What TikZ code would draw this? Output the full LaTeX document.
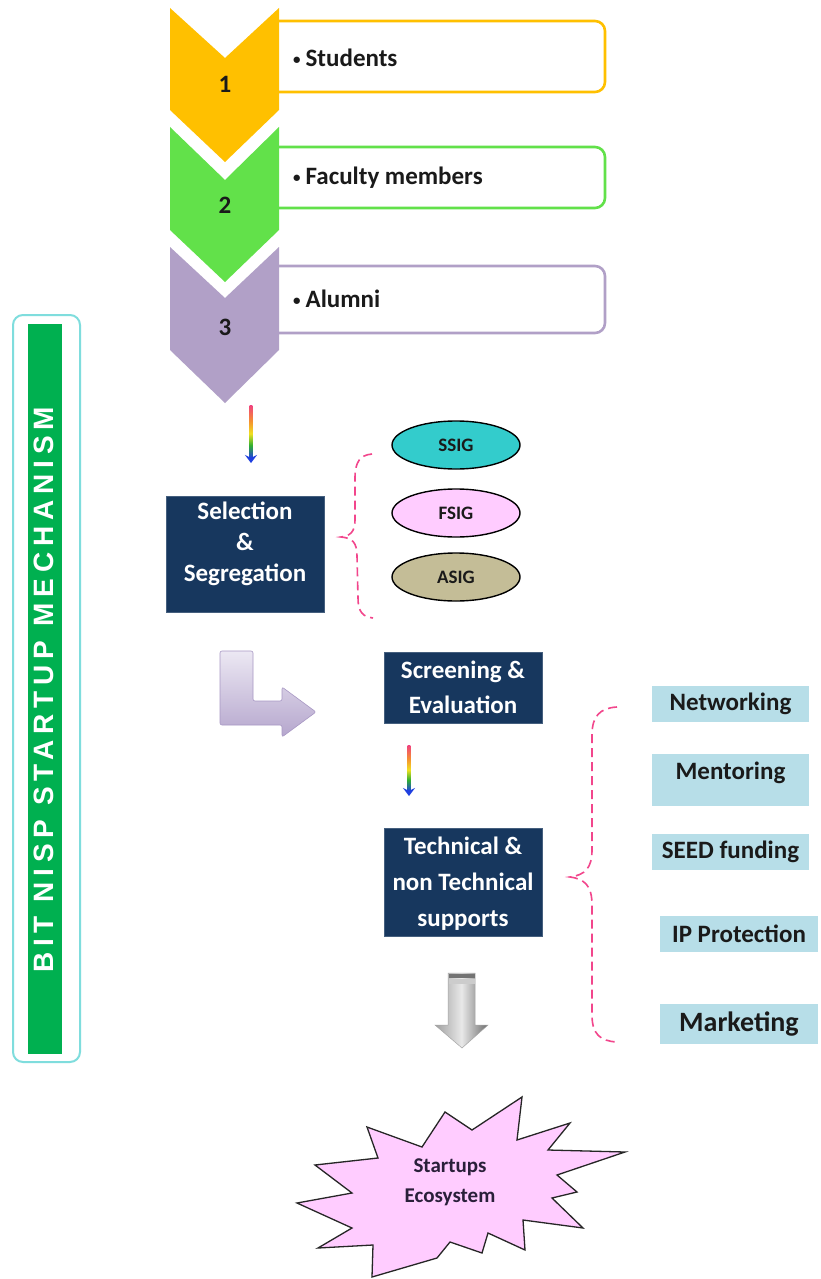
\documentclass[tikz,border=0pt]{standalone}
\usepackage{fontspec}
\setmainfont{Carlito}
\newfontfamily\bannerfont{Liberation Sans}
\usetikzlibrary{arrows.meta,calc,shapes.geometric}
\definecolor{orng}{HTML}{FFC000}
\definecolor{grn}{HTML}{62E14A}
\definecolor{purp}{HTML}{B1A0C7}
\definecolor{navy}{HTML}{17375E}
\definecolor{bannergreen}{HTML}{00B050}
\definecolor{bannercyan}{HTML}{7FDDDD}
\definecolor{turq}{HTML}{33CCCC}
\definecolor{pinkfill}{HTML}{FFCCFF}
\definecolor{khaki}{HTML}{C4BD97}
\definecolor{lblue}{HTML}{B7DEE8}
\definecolor{bracepink}{HTML}{F2468C}
\definecolor{darktext}{HTML}{1A1A1A}
\definecolor{ecotext}{HTML}{2A1F3A}
\definecolor{rbblue}{HTML}{1F3FE0}
\definecolor{rbgreen}{HTML}{30B030}
\definecolor{rbyellow}{HTML}{F0E020}
\definecolor{rborange}{HTML}{F59030}
\definecolor{rbpink}{HTML}{F04080}
\definecolor{lavtop}{HTML}{ECE8F3}
\definecolor{lavbot}{HTML}{B5A6CD}
\definecolor{lavedge}{HTML}{A898C4}
\pgfdeclareverticalshading{rainbow}{100bp}{color(0bp)=(rbblue); color(25bp)=(rbblue); color(37bp)=(rbgreen); color(48bp)=(rbyellow); color(60bp)=(rborange); color(75bp)=(rbpink); color(100bp)=(rbpink)}
\newcommand{\smallbul}{\raisebox{2.5pt}{\fontsize{15}{15}\selectfont•}\hspace{5pt}}
\begin{document}
\begin{tikzpicture}[x=1pt,y=-1pt,
  chevnum/.style={text=darktext,font=\bfseries\fontsize{25}{29}\selectfont},
  itembox/.style={draw,line width=2.6pt,rounded corners=10pt,fill=white,minimum width=343pt,inner sep=0pt},
  itemtext/.style={anchor=west,text=darktext,font=\bfseries\fontsize{25}{30}\selectfont,inner sep=0pt},
  navybox/.style={rectangle,fill=navy,draw=navy!80!white,line width=0.6pt,inner sep=0pt,minimum width=158pt},
  navytext/.style={text=white,align=center,inner sep=0pt,font=\bfseries\fontsize{25}{33}\selectfont},
  sig/.style={ellipse,draw=black,line width=1.4pt,minimum width=128pt,minimum height=48pt,inner sep=0pt,text=darktext,font=\bfseries\fontsize{19}{22}\selectfont},
  bluebox/.style={rectangle,fill=lblue,inner sep=0pt,minimum width=157pt,text=darktext,font=\bfseries\fontsize{25}{30}\selectfont},
  bracestyle/.style={draw=bracepink,line width=1.6pt,dash pattern=on 9pt off 5pt},
  rbhead/.style={draw=rbblue,line width=1.4pt,-{Stealth[length=8pt,width=12pt,inset=3pt]}}
]
\useasboundingbox (0,0) rectangle (820,1279);
\fill[white] (0,0) rectangle (820,1279);

% ---------- left banner ----------
\node[draw=bannercyan,line width=2pt,rounded corners=10pt,minimum width=67pt,minimum height=747pt,inner sep=0pt] (bannerframe) at (46.5,688.5) {};
\node[fill=bannergreen,minimum width=34pt,minimum height=730pt,inner sep=0pt] (bannerbar) at (45,689) {};
\node[rotate=90,text=white,inner sep=0pt,font=\bannerfont\bfseries\fontsize{28}{32}\selectfont] (bannertext) at (44,690) {\addfontfeature{LetterSpace=21}BIT NISP STARTUP MECHANISM};

% ---------- item boxes ----------
\node[itembox,draw=orng,minimum height=71pt] (box1) at (433.5,56.5) {};
\node[itembox,draw=grn,minimum height=61pt] (box2) at (433.5,177.5) {};
\node[itembox,draw=purp,minimum height=67pt] (box3) at (433.5,299.5) {};
\node[itemtext] (t1) at (293,58) {\smallbul Students};
\node[itemtext] (t2) at (293,178) {\smallbul Faculty members};
\node[itemtext] (t3) at (293,299) {\smallbul Alumni};

% ---------- chevrons ----------
\fill[orng] (170,8) -- (225,58) -- (279,8) -- (279,110) -- (225,162) -- (170,110) -- cycle;
\fill[grn] (170,127) -- (225,180) -- (279,127) -- (279,230) -- (225,282) -- (170,230) -- cycle;
\fill[purp] (170,247) -- (225,298) -- (279,247) -- (279,350) -- (225,403) -- (170,350) -- cycle;
\node[chevnum] (n1) at (225,84) {1};
\node[chevnum] (n2) at (225,205) {2};
\node[chevnum] (n3) at (225,327) {3};

% ---------- selection ----------
\node[navybox,minimum height=116pt] (sel) at (245,554) {};
\node[navytext,font=\bfseries\fontsize{25}{31}\selectfont] (seltext) at ($(sel.center)+(0,-10)$) {Selection\\\&\\Segregation};
\coordinate (r1a) at (251,405);
\coordinate (r1b) at (251,463);
\shade[shading=rainbow] ($(r1a)+(-1.3,0)$) rectangle ($(r1b)+(1.3,-5)$);
\draw[rbhead] ($(r1b)+(0,-6)$) -- (r1b);

\node[sig,fill=turq] (ssig) at (456,445) {SSIG};
\node[sig,fill=pinkfill] (fsig) at (456,513) {FSIG};
\node[sig,fill=khaki] (asig) at (456,577) {ASIG};

\coordinate (b1top) at (372,454);
\coordinate (b1tip) at (341,537);
\coordinate (b1bot) at (373,618);
\draw[bracestyle] (b1top) .. controls (360,455) and (355,462) .. (355,478)
  -- (355,520) .. controls (355,532) and (350,536) .. (b1tip)
  .. controls (352,538) and (357,542) .. (357,556)
  -- (358,598) .. controls (358,612) and (363,617) .. (b1bot);

% ---------- L arrow ----------
\shade[top color=lavtop,bottom color=lavbot,draw=lavedge,line width=0.6pt,rounded corners=2pt]
  (220,651) -- (253,651) -- (253,701) -- (282,701) -- (282,687) -- (316,712) -- (282,737) -- (282,725) -- (220,725) -- cycle;

% ---------- screening / technical ----------
\node[navybox,minimum height=71pt] (scr) at (463,687.5) {};
\node[navytext,font=\bfseries\fontsize{25}{35}\selectfont] (scrtext) at (scr.center) {Screening \&\\Evaluation};
\node[navybox,minimum height=108pt] (tech) at (463,882) {};
\node[navytext,font=\bfseries\fontsize{25}{36}\selectfont] (techtext) at ($(tech.center)+(0,2)$) {Technical \&\\non Technical\\supports};
\coordinate (r2a) at (409,745);
\coordinate (r2b) at (409,796);
\shade[shading=rainbow] ($(r2a)+(-1.3,0)$) rectangle ($(r2b)+(1.3,-5)$);
\draw[rbhead] ($(r2b)+(0,-6)$) -- (r2b);

% ---------- right brace and support boxes ----------
\coordinate (b2top) at (617,707);
\coordinate (b2tip) at (570,877);
\coordinate (b2bot) at (617,1042);
\draw[bracestyle] (b2top) .. controls (600,708) and (592,716) .. (592,735)
  -- (592,850) .. controls (592,868) and (585,875) .. (b2tip)
  .. controls (585,879) and (592,886) .. (592,905)
  -- (592,1015) .. controls (592,1034) and (600,1041) .. (b2bot);

\node[bluebox,minimum height=36pt] (net) at (730.5,704) {Networking};
\node[bluebox,minimum height=52pt,text height=0.7em,text depth=0.83em] (men) at (730.5,780) {Mentoring};
\node[bluebox,minimum height=36pt] (seed) at (730.5,852) {SEED funding};
\node[bluebox,minimum width=158pt,minimum height=36pt] (ip) at (739,934) {IP Protection};
\node[bluebox,minimum width=158pt,minimum height=40pt,font=\bfseries\fontsize{28}{32}\selectfont] (mkt) at (739,1024) {Marketing};

% ---------- gray arrow ----------
\shade[left color=gray!75,right color=gray!85!black,middle color=gray!18,draw=gray!70,line width=0.5pt]
  (448,973) -- (475,973) -- (475,1025) -- (488,1025) -- (462,1048) -- (435,1025) -- (448,1025) -- cycle;
\fill[gray!90!black] (448.5,973.5) rectangle (474.5,977.5);
\fill[gray!40] (448.5,979) rectangle (474.5,984);

% ---------- explosion ----------
\filldraw[fill=pinkfill,draw=black!85,line width=1.3pt,line join=miter]
  (297,1203) -- (352,1193) -- (315,1165) -- (378,1158) -- (367,1127) -- (422,1147)
  -- (445,1112) -- (472,1130) -- (522,1097) -- (517,1140) -- (570,1123) -- (548,1150)
  -- (625,1152) -- (557,1175) -- (577,1192) -- (552,1198) -- (583,1228) -- (523,1220)
  -- (525,1250) -- (488,1233) -- (482,1253) -- (450,1242) -- (437,1258) -- (372,1277)
  -- (373,1245) -- (318,1248) -- (352,1228) -- cycle;
\node[align=center,text=ecotext,font=\bfseries\fontsize{21}{30}\selectfont] (eco) at (450,1182) {Startups\\Ecosystem};
\end{tikzpicture}
\end{document}
